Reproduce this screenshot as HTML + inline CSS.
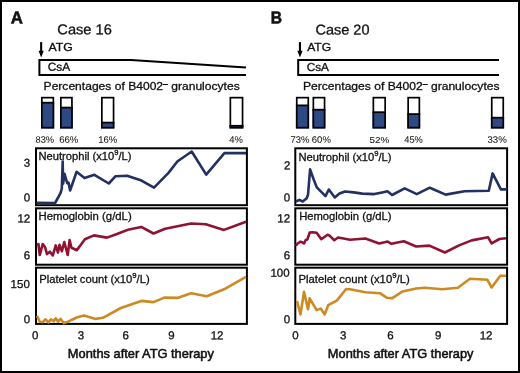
<!DOCTYPE html>
<html><head><meta charset="utf-8"><style>
html,body{margin:0;padding:0;background:#fff;}
svg{display:block;will-change:transform;}
text{font-family:"Liberation Sans", sans-serif;fill:#111;stroke:#111;stroke-width:0.3px;}
</style></head><body>
<svg width="520" height="373" viewBox="0 0 520 373">
<rect width="520" height="373" fill="#fff"/>
<rect x="1" y="1" width="518" height="371" fill="none" stroke="#000" stroke-width="2"/>
<line x1="41.15" y1="42.1" x2="41.15" y2="52" stroke="#000" stroke-width="2.1"/>
<polygon points="38.55,50.7 43.75,50.7 41.15,57.4" fill="#000"/>
<path d="M246,67.5 L131,60 L39.4,60 L39.4,75 L246,75" fill="none" stroke="#000" stroke-width="2" stroke-linejoin="miter"/>
<rect x="41" y="102.7" width="13.20" height="25.80" fill="#2d4a85"/>
<line x1="41" y1="102.7" x2="54.2" y2="102.7" stroke="#000" stroke-width="1.8"/>
<rect x="41.85" y="97.65" width="11.50" height="30.00" fill="none" stroke="#000" stroke-width="1.7"/>
<rect x="60" y="107.6" width="12.80" height="20.90" fill="#2d4a85"/>
<line x1="60" y1="107.6" x2="72.8" y2="107.6" stroke="#000" stroke-width="1.8"/>
<rect x="60.85" y="97.65" width="11.10" height="30.00" fill="none" stroke="#000" stroke-width="1.7"/>
<rect x="101" y="122.6" width="13.40" height="5.90" fill="#2d4a85"/>
<line x1="101" y1="122.6" x2="114.4" y2="122.6" stroke="#000" stroke-width="1.8"/>
<rect x="101.85" y="97.65" width="11.70" height="30.00" fill="none" stroke="#000" stroke-width="1.7"/>
<rect x="229.5" y="125.8" width="13.90" height="2.70" fill="#2d4a85"/>
<line x1="229.5" y1="125.8" x2="243.4" y2="125.8" stroke="#000" stroke-width="1.8"/>
<rect x="230.35" y="97.65" width="12.20" height="30.00" fill="none" stroke="#000" stroke-width="1.7"/>
<line x1="299.95" y1="42.1" x2="299.95" y2="52" stroke="#000" stroke-width="2.1"/>
<polygon points="297.35,50.7 302.55,50.7 299.95,57.4" fill="#000"/>
<path d="M499,60 L298.2,60 L298.2,75 L499,75" fill="none" stroke="#000" stroke-width="2" stroke-linejoin="miter"/>
<rect x="295.9" y="105.4" width="13.20" height="23.10" fill="#2d4a85"/>
<line x1="295.9" y1="105.4" x2="309.1" y2="105.4" stroke="#000" stroke-width="1.8"/>
<rect x="296.75" y="97.65" width="11.50" height="30.00" fill="none" stroke="#000" stroke-width="1.7"/>
<rect x="312.5" y="109.7" width="12.90" height="18.80" fill="#2d4a85"/>
<line x1="312.5" y1="109.7" x2="325.4" y2="109.7" stroke="#000" stroke-width="1.8"/>
<rect x="313.35" y="97.65" width="11.20" height="30.00" fill="none" stroke="#000" stroke-width="1.7"/>
<rect x="372.5" y="112.2" width="13.50" height="16.30" fill="#2d4a85"/>
<line x1="372.5" y1="112.2" x2="386" y2="112.2" stroke="#000" stroke-width="1.8"/>
<rect x="373.35" y="97.65" width="11.80" height="30.00" fill="none" stroke="#000" stroke-width="1.7"/>
<rect x="407.3" y="114.1" width="12.90" height="14.40" fill="#2d4a85"/>
<line x1="407.3" y1="114.1" x2="420.2" y2="114.1" stroke="#000" stroke-width="1.8"/>
<rect x="408.15" y="97.65" width="11.20" height="30.00" fill="none" stroke="#000" stroke-width="1.7"/>
<rect x="490.9" y="117.7" width="13.20" height="10.80" fill="#2d4a85"/>
<line x1="490.9" y1="117.7" x2="504.1" y2="117.7" stroke="#000" stroke-width="1.8"/>
<rect x="491.75" y="97.65" width="11.50" height="30.00" fill="none" stroke="#000" stroke-width="1.7"/>
<rect x="36.00" y="148.30" width="210.90" height="56.90" fill="none" stroke="#000" stroke-width="2"/>
<rect x="36.00" y="208.30" width="210.90" height="56.40" fill="none" stroke="#000" stroke-width="2"/>
<rect x="36.00" y="267.70" width="210.90" height="56.20" fill="none" stroke="#000" stroke-width="2"/>
<rect x="295.30" y="148.30" width="211.80" height="56.90" fill="none" stroke="#000" stroke-width="2"/>
<rect x="295.30" y="208.30" width="211.80" height="56.40" fill="none" stroke="#000" stroke-width="2"/>
<rect x="295.30" y="267.70" width="211.80" height="56.20" fill="none" stroke="#000" stroke-width="2"/>
<polyline points="36.5,202.8 55.1,203.0 60.5,193.2 61.8,188.5 62.7,161.5 63.1,183.8 64.5,173.8 67.2,183.2 68.5,182.5 70.1,190.5 76.6,171.8 84.5,178.1 94.4,174.8 108.8,183.5 115.6,176.2 127.1,175.8 141.5,180.6 154.0,187.7 168.5,172.9 177.3,161.5 191.7,151.5 206.2,174.6 224.4,153.1 246.0,153.1" fill="none" stroke="#223062" stroke-width="2.6" stroke-linejoin="round" stroke-linecap="butt"/>
<polyline points="36.9,244.9 38.4,244.0 39.8,255.0 42.7,244.0 45.1,247.3 47.0,254.1 49.9,251.7 52.8,255.5 55.7,245.4 58.0,252.6 59.5,244.9 61.9,251.2 64.3,242.0 67.7,255.0 69.6,240.1 71.5,247.8 76.8,250.2 84.9,239.2 93.9,235.4 107.0,237.6 117.6,233.8 129.0,229.4 141.3,226.9 153.5,233.5 165.2,228.7 191.1,223.5 205.8,224.3 224.0,229.9 246.0,221.7" fill="none" stroke="#8f1232" stroke-width="2.6" stroke-linejoin="round" stroke-linecap="butt"/>
<polyline points="37.0,315.9 39.8,321.7 42.7,322.1 45.6,319.3 48.5,322.6 50.9,319.3 53.8,321.2 55.7,318.3 58.1,321.7 60.5,318.8 62.4,321.2 63.8,323.1 68.2,321.7 72.0,319.7 77.3,317.3 84.1,315.6 95.5,318.9 102.9,317.8 120.8,308.0 141.3,300.9 153.5,302.1 164.3,297.6 177.3,297.9 191.1,293.2 206.7,296.2 224.0,289.3 246.0,276.8" fill="none" stroke="#cd8a22" stroke-width="2.6" stroke-linejoin="round" stroke-linecap="butt"/>
<polyline points="296.0,201.5 299.4,199.9 302.7,201.5 306.7,198.2 308.0,194.8 310.1,169.4 313.4,178.7 316.8,187.4 325.5,196.1 328.8,189.5 334.8,197.5 339.5,193.5 345.0,191.5 353.7,192.4 362.3,193.6 374.4,194.1 382.2,192.4 387.4,191.2 392.1,195.0 404.7,188.4 416.8,194.1 429.8,187.7 445.6,194.6 464.6,191.2 488.8,190.7 492.6,173.4 500.9,189.4 507.0,189.4" fill="none" stroke="#223062" stroke-width="2.6" stroke-linejoin="round" stroke-linecap="butt"/>
<polyline points="295.9,245.8 297.6,243.5 300.5,241.7 302.2,242.3 304.0,243.5 305.7,240.0 307.4,239.4 309.7,232.5 312.6,232.2 316.6,232.8 321.3,239.1 327.6,234.8 329.3,235.4 334.3,240.2 338.0,237.5 344.9,238.8 350.0,239.7 365.4,238.5 379.2,243.4 387.7,241.5 391.5,243.8 403.8,241.2 416.2,246.5 429.3,245.6 444.9,252.5 459.6,245.1 471.7,240.4 488.1,237.3 491.6,243.4 499.4,239.0 506.0,238.2" fill="none" stroke="#8f1232" stroke-width="2.6" stroke-linejoin="round" stroke-linecap="butt"/>
<polyline points="297.0,301.1 300.5,314.4 304.0,291.9 308.0,309.2 309.7,298.3 316.6,310.1 320.7,308.6 324.7,314.4 328.2,305.2 336.8,300.6 346.1,289.0 350.0,289.2 365.4,292.2 380.0,293.2 386.9,297.8 392.3,298.1 402.3,291.6 416.2,288.5 425.0,287.8 442.3,289.2 457.9,287.8 470.0,278.8 487.3,279.7 491.6,287.5 500.3,275.7 506.0,275.7" fill="none" stroke="#cd8a22" stroke-width="2.6" stroke-linejoin="round" stroke-linecap="butt"/>
<text x="10.9" y="23.6" font-size="17.5" font-weight="bold" style="stroke-width:0.6px" transform="matrix(0.9600,0.0005,0,1,0.360,-0.183)">A</text>
<text x="271.5" y="23.6" font-size="17.5" font-weight="bold" style="stroke-width:0.6px" transform="matrix(0.8900,0.0005,0,1,29.080,-0.138)">B</text>
<text x="57.75" y="34.4" font-size="14.2" font-weight="normal" transform="matrix(1.0300,0.0005,0,1,-2.145,-0.167)">Case 16</text>
<text x="316" y="34.4" font-size="14.2" font-weight="normal" transform="matrix(1.0192,0.0005,0,1,-6.487,-0.071)">Case 20</text>
<text x="48.2" y="51" font-size="11" font-weight="normal" transform="matrix(1.1153,0.0005,0,1,-5.234,-0.180)">ATG</text>
<text x="306.9" y="51.2" font-size="11" font-weight="normal" transform="matrix(1.1012,0.0005,0,1,-30.786,-0.209)">ATG</text>
<text x="48.2" y="71" font-size="11.5" font-weight="normal" transform="matrix(1.0353,0.0005,0,1,-2.171,-0.230)">CsA</text>
<text x="306.9" y="71.1" font-size="11.5" font-weight="normal" transform="matrix(1.0279,0.0005,0,1,-8.824,-0.184)">CsA</text>
<text x="44.4" y="90" font-size="11.2" font-weight="normal" transform="matrix(1.0792,0,0,1,-4.335,0)">Percentages of B4002<tspan font-size="8" dy="-4.4">&#8211;</tspan><tspan dy="4.4"> granulocytes</tspan></text>
<text x="303.7" y="90" font-size="11.2" font-weight="normal" transform="matrix(1.0816,0,0,1,-25.549,0)">Percentages of B4002<tspan font-size="8" dy="-4.4">&#8211;</tspan><tspan dy="4.4"> granulocytes</tspan></text>
<text x="35.7" y="142.7" font-size="9.4" font-weight="normal" style="stroke-width:0.05px" transform="matrix(0.9918,0.0005,0,1,0.096,0.028)">83%</text>
<text x="59.4" y="142.7" font-size="9.4" font-weight="normal" style="stroke-width:0.05px" transform="matrix(1.0222,0.0005,0,1,-1.578,0.016)">66%</text>
<text x="98.8" y="142.7" font-size="9.4" font-weight="normal" style="stroke-width:0.05px" transform="matrix(1.0141,0.0005,0,1,-2.001,-0.004)">16%</text>
<text x="229.2" y="142.7" font-size="9.4" font-weight="normal" style="stroke-width:0.05px" transform="matrix(1.0038,0.0005,0,1,-0.815,-0.068)">4%</text>
<text x="290.8" y="142.7" font-size="9.4" font-weight="normal" style="stroke-width:0.05px" transform="matrix(1.0111,0.0005,0,1,-3.586,-0.100)">73%</text>
<text x="312.1" y="142.7" font-size="9.4" font-weight="normal" style="stroke-width:0.05px" transform="matrix(1.0167,0.0005,0,1,-5.508,-0.111)">60%</text>
<text x="369.8" y="142.7" font-size="9.4" font-weight="normal" style="stroke-width:0.05px" transform="matrix(1.0556,0.0005,0,1,-20.919,-0.140)">52%</text>
<text x="404.2" y="142.7" font-size="9.4" font-weight="normal" style="stroke-width:0.05px" transform="matrix(0.9892,0.0005,0,1,4.420,-0.157)">45%</text>
<text x="487.7" y="142.7" font-size="9.4" font-weight="normal" style="stroke-width:0.05px" transform="matrix(1.0301,0.0005,0,1,-14.907,-0.199)">33%</text>
<text x="39.2" y="160.1" font-size="11" font-weight="normal" transform="matrix(1.0172,0,0,1,-1.387,0)">Neutrophil (x10<tspan font-size="7.5" dy="-5">9</tspan><tspan dy="5">/L)</tspan></text>
<text x="39.2" y="219.6" font-size="11" font-weight="normal" transform="matrix(1.0315,0,0,1,-1.958,0)">Hemoglobin (g/dL)</text>
<text x="40.1" y="282.8" font-size="11" font-weight="normal" transform="matrix(1.0211,0,0,1,-1.664,0)">Platelet count (x10<tspan font-size="7.5" dy="-5">9</tspan><tspan dy="5">/L)</tspan></text>
<text x="299.2" y="160.6" font-size="11" font-weight="normal" transform="matrix(1.0172,0,0,1,-5.852,0)">Neutrophil (x10<tspan font-size="7.5" dy="-5">9</tspan><tspan dy="5">/L)</tspan></text>
<text x="299.8" y="220.4" font-size="11" font-weight="normal" transform="matrix(1.0218,0,0,1,-7.166,0)">Hemoglobin (g/dL)</text>
<text x="299.2" y="282.8" font-size="11" font-weight="normal" transform="matrix(1.0295,0,0,1,-9.552,0)">Platelet count (x10<tspan font-size="7.5" dy="-5">9</tspan><tspan dy="5">/L)</tspan></text>
<text x="23.8" y="166.6" font-size="11.5" font-weight="normal" transform="matrix(1.0000,0.0005,0,1,0.050,0.211)">3</text>
<text x="23.8" y="201.5" font-size="11.5" font-weight="normal" transform="matrix(1.0000,0.0005,0,1,-0.075,0.086)">0</text>
<text x="17.8" y="222.0" font-size="11.5" font-weight="normal" transform="matrix(1.0000,0.0005,0,1,-0.375,0.363)">12</text>
<text x="23.8" y="259.1" font-size="11.5" font-weight="normal" transform="matrix(1.0000,0.0005,0,1,0.050,0.161)">6</text>
<text x="10.8" y="288.0" font-size="11.5" font-weight="normal" transform="matrix(1.0000,0.0005,0,1,-0.175,0.090)">150</text>
<text x="23.8" y="323.3" font-size="11.5" font-weight="normal" transform="matrix(1.0000,0.0005,0,1,0.000,-0.039)">0</text>
<text x="283.8" y="169.29999999999998" font-size="11.5" font-weight="normal" transform="matrix(1.0000,0.0005,0,1,0.100,-0.119)">2</text>
<text x="283.8" y="201.4" font-size="11.5" font-weight="normal" transform="matrix(1.0000,0.0005,0,1,0.000,-0.068)">0</text>
<text x="277.5" y="222.29999999999998" font-size="11.5" font-weight="normal" transform="matrix(1.0000,0.0005,0,1,-0.150,-0.117)">12</text>
<text x="283.8" y="259.3" font-size="11.5" font-weight="normal" transform="matrix(1.0000,0.0005,0,1,0.050,-0.219)">6</text>
<text x="270.4" y="276.6" font-size="11.5" font-weight="normal" transform="matrix(1.0000,0.0005,0,1,0.075,-0.015)">100</text>
<text x="283.8" y="323.3" font-size="11.5" font-weight="normal" transform="matrix(1.0000,0.0005,0,1,0.000,-0.169)">0</text>
<text x="32" y="339.6" font-size="11.5" font-weight="normal" transform="matrix(1.0000,0.0005,0,1,0.125,-0.343)">0</text>
<text x="77.5" y="339.6" font-size="11.5" font-weight="normal" transform="matrix(1.0000,0.0005,0,1,0.225,-0.365)">3</text>
<text x="122.4" y="339.6" font-size="11.5" font-weight="normal" transform="matrix(1.0000,0.0005,0,1,0.125,-0.388)">6</text>
<text x="167.8" y="339.6" font-size="11.5" font-weight="normal" transform="matrix(1.0000,0.0005,0,1,0.350,-0.411)">9</text>
<text x="210.8" y="339.6" font-size="11.5" font-weight="normal" transform="matrix(1.0000,0.0005,0,1,-0.125,-0.434)">12</text>
<text x="292.4" y="339.6" font-size="11.5" font-weight="normal" transform="matrix(1.0000,0.0005,0,1,-0.225,-0.473)">0</text>
<text x="340" y="339.6" font-size="11.5" font-weight="normal" transform="matrix(1.0000,0.0005,0,1,-0.025,-0.497)">3</text>
<text x="387.3" y="339.6" font-size="11.5" font-weight="normal" transform="matrix(1.0000,0.0005,0,1,-0.100,-0.520)">6</text>
<text x="435.1" y="339.6" font-size="11.5" font-weight="normal" transform="matrix(1.0000,0.0005,0,1,-0.100,-0.544)">9</text>
<text x="480.2" y="339.6" font-size="11.5" font-weight="normal" transform="matrix(1.0000,0.0005,0,1,-0.500,-0.568)">12</text>
<text x="68.5" y="358.2" font-size="13.3" font-weight="normal" style="stroke-width:0.55px" transform="matrix(0.9658,0,0,1,1.716,0)">Months after ATG therapy</text>
<text x="328.5" y="358.2" font-size="13.3" font-weight="normal" style="stroke-width:0.55px" transform="matrix(0.9625,0,0,1,11.690,0)">Months after ATG therapy</text>
</svg>
</body></html>
